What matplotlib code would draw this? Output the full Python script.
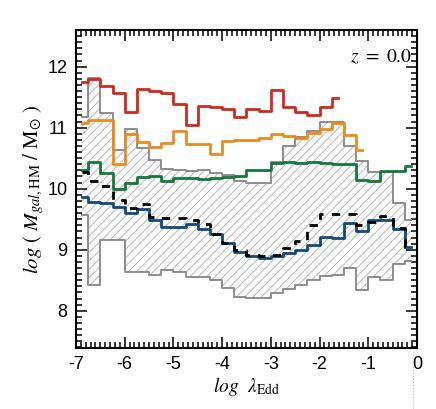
import numpy as np
import matplotlib
matplotlib.use('Agg')
import matplotlib.pyplot as plt
from matplotlib.lines import Line2D

plt.rcParams['mathtext.fontset'] = 'stix'
plt.rcParams['font.family'] = ['Liberation Sans', 'DejaVu Sans']
plt.rcParams['hatch.linewidth'] = 0.6

# bin centres in log lambda_Edd (0.25 dex bins)
lam = np.arange(-6.875, 0, 0.25)

red = [11.74, 11.79, 11.68, 11.57, 11.26, 11.64, 11.60, 11.56, 11.38, 11.05, 11.36,
       11.34, 11.31, 11.18, 11.30, 11.28, 11.62, 11.34, 11.26, 11.20, 11.34, 11.48]
orange = [11.07, 11.13, 11.13, 10.41, 10.90, 10.76, 10.68, 10.75, 10.95, 10.74, 10.74,
          10.57, 10.78, 10.80, 10.80, 10.83, 10.89, 10.87, 10.83, 10.92, 10.97, 11.08,
          10.88, 10.63]
green = [10.30, 10.43, 10.26, 9.99, 10.10, 10.19, 10.21, 10.13, 10.17, 10.17, 10.16,
         10.17, 10.19, 10.21, 10.30, 10.30, 10.42, 10.44, 10.42, 10.43, 10.42, 10.41,
         10.41, 10.15, 10.12, 10.29, 10.29, 10.37]
blue = [9.86, 9.79, 9.76, 9.70, 9.61, 9.66, 9.49, 9.37, 9.37, 9.42, 9.34, 9.25, 9.11,
        8.97, 8.90, 8.86, 8.89, 8.95, 9.00, 9.08, 9.21, 9.20, 9.43, 9.31, 9.48, 9.48,
        9.34, 9.04]
median = [10.28, 10.12, 10.05, 9.82, 9.68, 9.75, 9.54, 9.52, 9.52, 9.49, 9.42, 9.25,
          9.11, 9.00, 8.92, 8.89, 8.92, 9.03, 9.15, 9.41, 9.58, 9.58, 9.58, 9.40, 9.45,
          9.55, 9.35, 9.05]
upper = [11.17, 11.81, 11.24, 10.64, 10.97, 10.67, 10.47, 10.33, 10.30, 10.29, 10.31,
         10.26, 10.23, 10.12, 10.10, 10.10, 10.44, 10.70, 10.84, 10.94, 11.10, 11.10,
         10.70, 10.46, 10.27, 10.27, 9.76, 9.49]
lower = [9.57, 8.43, 9.16, 9.16, 8.63, 8.63, 8.59, 8.66, 8.63, 8.56, 8.56, 8.51, 8.37,
         8.23, 8.21, 8.21, 8.29, 8.35, 8.43, 8.51, 8.57, 8.59, 8.70, 8.34, 8.56, 8.51,
         8.77, 8.81]

fig = plt.figure(figsize=(4.36, 4.09), dpi=100)
ax = fig.add_axes([0.1743, 0.1491, 0.7821, 0.7776])

ax.fill_between(lam, lower, upper, step='mid', facecolor='none',
                edgecolor='#aaaaaa', hatch='////', linewidth=0)
ax.step(lam, upper, where='mid', color='#8c8c8c', lw=1.4)
ax.step(lam, lower, where='mid', color='#8c8c8c', lw=1.4)

ax.step(lam[:len(red)], red, where='mid', color='#cc2b1d', lw=2.0)
ax.step(lam[:len(orange)], orange, where='mid', color='#e88b22', lw=2.0)
ax.step(lam, green, where='mid', color='#13783a', lw=2.0)
ax.step(lam, blue, where='mid', color='#134a78', lw=2.0)
ax.step(lam, median, where='mid', color='black', lw=2.0, dashes=(3, 3))

ax.set_xlim(-7, 0)
ax.set_ylim(7.39, 12.6)
ax.set_xticks(range(-7, 1))
ax.set_xticklabels([str(v) for v in range(-7, 1)])
ax.set_yticks([8, 9, 10, 11, 12])
ax.set_xticks(np.arange(-7, 0.01, 0.1), minor=True)
ax.set_yticks(np.arange(7.4, 12.6, 0.1), minor=True)
ax.tick_params(which='both', direction='in', top=True, right=True, labelsize=13,
               width=1.1, pad=6)
ax.tick_params(which='major', length=8)
ax.tick_params(which='minor', length=4)
for sp in ax.spines.values():
    sp.set_linewidth(1.5)

ax.set_xlabel(r'$log\ \ \lambda_{\mathrm{Edd}}$', fontsize=14, labelpad=1)
ax.set_ylabel(r'$log\ (\ M_{gal,\mathrm{HM}}\ /\ \mathrm{M}_{\odot}\ )$', fontsize=15,
              labelpad=1)
ax.text(0.985, 0.915, r'$z\ =\ 0.0$', transform=ax.transAxes, ha='right', va='center',
        fontsize=14)

fig.add_artist(Line2D([0.9466, 0.9466], [0.0, 0.145], transform=fig.transFigure,
                      color='#bbbbbb', lw=0.8, ls=':'))

fig.savefig('out.png', dpi=100)
